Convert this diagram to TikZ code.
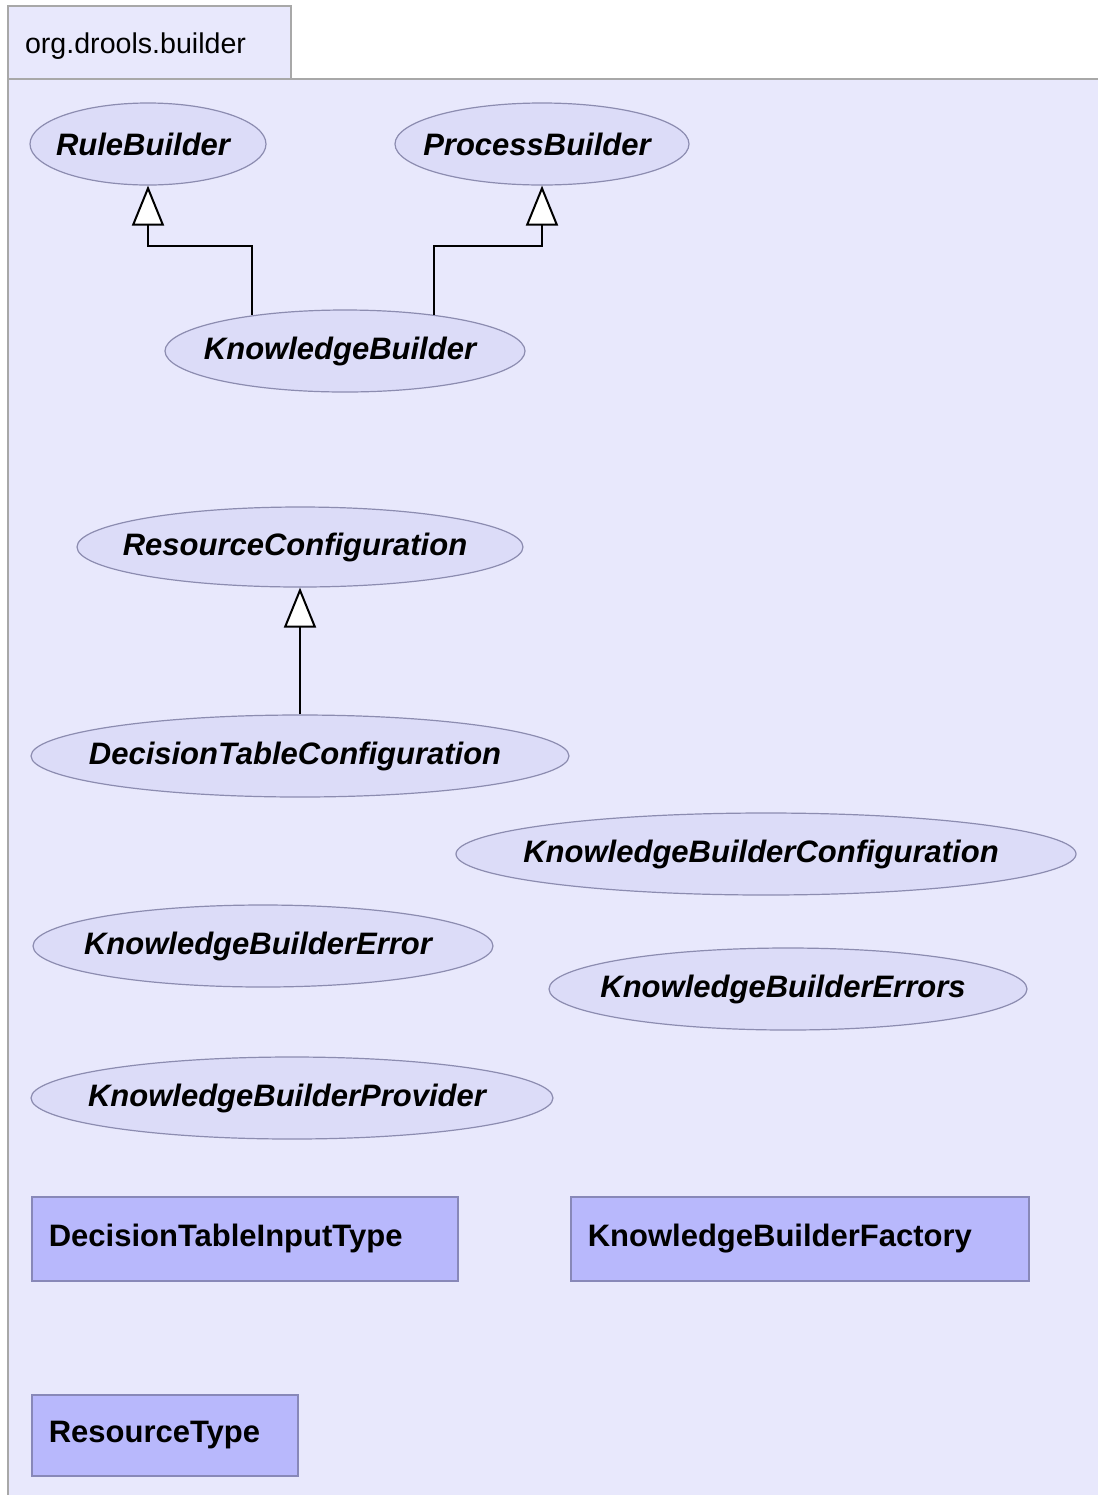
\documentclass[tikz,border=0pt]{standalone}
\usepackage{fontspec}
\setmainfont{Liberation Sans}
\usepackage{tikz}
\usetikzlibrary{shapes.geometric}
\usetikzlibrary{arrows.meta}
\definecolor{pkgbg}{RGB}{232,232,252}
\definecolor{pkgline}{RGB}{168,168,168}
\definecolor{ifacebg}{RGB}{220,220,248}
\definecolor{ifaceline}{RGB}{140,140,176}
\definecolor{clsbg}{RGB}{184,184,252}
\definecolor{clsline}{RGB}{136,136,184}
\newcommand{\iname}[1]{\makebox[0pt]{#1\hspace{5pt}}}
\tikzset{
  iface/.style={ellipse,draw=ifaceline,fill=ifacebg,line width=0.6pt,inner sep=0pt,
    font=\fontsize{15.5}{18}\selectfont\bfseries\itshape},
  cls/.style={rectangle,draw=clsline,fill=clsbg,line width=0.8pt,anchor=north west,
    inner xsep=8.5pt,inner ysep=0pt,align=left,
    font=\fontsize{15.5}{18}\selectfont\bfseries},
  extends/.style={line width=1pt,-{Triangle[open,length=20pt,width=16pt,fill=white]}}
}
\begin{document}
\begin{tikzpicture}[x=0.5pt,y=-0.5pt]
\useasboundingbox (0,0) rectangle (1098,1495);
\fill[white] (0,0) rectangle (1098,1495);
\fill[pkgbg] (8,78) rectangle (1098,1495);
\draw[pkgline,fill=pkgbg,line width=1pt] (8,78) -- (8,6) -- (291,6) -- (291,78);
\draw[pkgline,line width=1pt] (1098,79) -- (8,79) -- (8,1495);
\node[anchor=west,font=\fontsize{14.3}{16}\selectfont] (pkg) at (18,46) {org.drools.builder};

\node[iface,minimum width=118pt,minimum height=41pt] (rb) at (148,144) {\iname{RuleBuilder}};
\node[iface,minimum width=147pt,minimum height=41pt] (pb) at (542,144) {\iname{ProcessBuilder}};
\node[iface,minimum width=180pt,minimum height=41pt] (kb) at (345,351) {\iname{KnowledgeBuilder}};
\node[iface,minimum width=223pt,minimum height=40pt] (rc) at (300,547) {\iname{ResourceConfiguration}};
\node[iface,minimum width=269pt,minimum height=41pt] (dtc) at (300,756) {\iname{DecisionTableConfiguration}};
\node[iface,minimum width=310pt,minimum height=41pt] (kbc) at (766,854) {\iname{KnowledgeBuilderConfiguration}};
\node[iface,minimum width=230pt,minimum height=41pt] (kbe) at (263,946) {\iname{KnowledgeBuilderError}};
\node[iface,minimum width=239pt,minimum height=41pt] (kbes) at (788,989) {\iname{KnowledgeBuilderErrors}};
\node[iface,minimum width=261pt,minimum height=41pt] (kbp) at (292,1098) {\iname{KnowledgeBuilderProvider}};

\node[cls,minimum width=213pt,minimum height=42pt,text width=196pt] (dtit) at (31,1196) {DecisionTableInputType\\[-3pt]};
\node[cls,minimum width=229pt,minimum height=42pt,text width=212pt] (kbf) at (570,1196) {KnowledgeBuilderFactory\\[-3pt]};
\node[cls,minimum width=133pt,minimum height=40.5pt,text width=116pt] (rt) at (31,1394) {ResourceType\\[-3pt]};

\draw[extends] (kb.159) |- (rb.south |- 0,246) -- (rb.south);
\draw[extends] (kb.22) |- (pb.south |- 0,246) -- (pb.south);
\draw[extends] (dtc.north) -- (rc.south);
\end{tikzpicture}
\end{document}
